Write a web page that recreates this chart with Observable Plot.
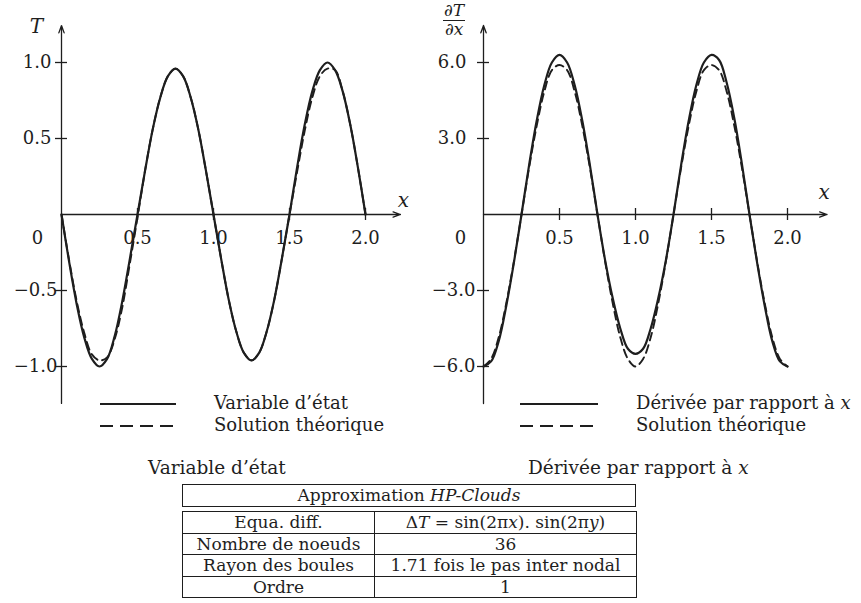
<!DOCTYPE html>
<html><head><meta charset="utf-8">
<script src="https://cdn.jsdelivr.net/npm/d3@7"></script>
<script src="https://cdn.jsdelivr.net/npm/@observablehq/plot@0.6"></script>
<style>
body{margin:0;background:#fff;}
#root{position:relative;width:861px;height:603px;overflow:hidden;font-family:"DejaVu Serif",serif;color:#1e1e1e;background:#fff;}
.abs{position:absolute;}
.leg{position:absolute;font-size:18px;white-space:nowrap;line-height:1;}
.cap{position:absolute;font-size:18.5px;white-space:nowrap;line-height:1;}
.frac{position:absolute;left:443px;top:2px;font-size:17px;font-style:italic;text-align:center;line-height:1.0;}
.frac .num{border-bottom:1.4px solid #1e1e1e;padding:0 1px 1px 1px;}
#t1{position:absolute;left:182px;top:484px;width:452px;height:21px;border:1.6px solid #1e1e1e;text-align:center;font-size:17px;line-height:21px;}
#t2{position:absolute;left:182px;top:511px;width:455px;border-collapse:collapse;font-size:17px;}
#t2 td{border:1.6px solid #1e1e1e;height:20.5px;padding:0;text-align:center;line-height:20.5px;white-space:nowrap;}
i{font-style:italic;}
</style></head><body><div id="root">
<div id="p1" class="abs" style="left:0;top:0"></div>
<div id="p2" class="abs" style="left:430px;top:0"></div>
<div class="frac"><div class="num">∂T</div><div>∂x</div></div>
<div id="legends"></div>
<div class="cap" style="left:148px;top:459px">Variable d’état</div>
<div class="cap" style="left:528px;top:459px">Dérivée par rapport à <i>x</i></div>
<div id="t1">Approximation <i>HP-Clouds</i></div>
<table id="t2"></table>
</div>
<script>
// ---- data ----
const xs = [0,0.05,0.1,0.15,0.2,0.25,0.3,0.35,0.4,0.45,0.5,0.55,0.6,0.65,0.7,0.75,0.8,0.85,0.9,0.95,1.0,
            1.05,1.1,1.15,1.2,1.25,1.3,1.35,1.4,1.45,1.5,1.55,1.6,1.65,1.7,1.75,1.8,1.85,1.9,1.95,2.0];
// Variable d'état (solid) and solution théorique (dashed)
const tState = [0,-0.31,-0.59,-0.81,-0.95,-1.0,-0.95,-0.80,-0.57,-0.29,0.0,0.29,0.56,0.77,0.91,0.96,0.91,0.77,0.56,0.29,0.0,
                -0.29,-0.56,-0.77,-0.91,-0.96,-0.91,-0.77,-0.56,-0.29,0.0,0.31,0.59,0.81,0.95,1.0,0.95,0.81,0.59,0.31,0.0];
const tTheory = [0,-0.30,-0.57,-0.78,-0.92,-0.96,-0.94,-0.82,-0.61,-0.32,-0.02,0.29,0.56,0.77,0.91,0.96,0.91,0.77,0.56,0.29,0.0,
                -0.29,-0.56,-0.77,-0.91,-0.96,-0.91,-0.77,-0.56,-0.29,0.0,0.28,0.55,0.77,0.91,0.96,0.95,0.81,0.59,0.31,0.0];
// Dérivée par rapport à x (solid) and solution théorique (dashed)
const dState = [-6.0,-5.8,-5.0,-3.6,-1.9,0.0,1.95,3.7,5.1,6.0,6.3,6.0,5.1,3.7,1.95,0.0,-1.8,-3.3,-4.5,-5.3,-5.5,
                -5.3,-4.5,-3.3,-1.8,0.0,1.95,3.7,5.1,6.0,6.3,6.1,5.2,3.8,2.0,0.0,-1.9,-3.6,-5.0,-5.8,-6.0];
const dTheory = [-6.0,-5.7,-4.85,-3.5,-1.85,0.0,1.85,3.5,4.85,5.7,5.9,5.7,4.85,3.5,1.85,0.0,-1.85,-3.5,-4.85,-5.7,-6.0,
                -5.7,-4.85,-3.5,-1.85,0.0,1.85,3.5,4.85,5.7,5.9,5.7,4.85,3.5,1.85,0.0,-1.85,-3.5,-4.85,-5.7,-6.0];
const xTicks = [0.5,1.0,1.5,2.0];
const tTicks = [-1.0,-0.5,0.5,1.0];
const dTicks = [-6.0,-3.0,3.0,6.0];
const tAxisExtent = {x: 2.23, y: 1.243};
const dAxisExtent = {x: 2.26, y: 7.46};
const legendLeft = ["Variable d’état","Solution théorique"];
const legendRight = ["Dérivée par rapport à <i>x</i>","Solution théorique"];
const tableRows = [
  ["Equa. diff.", "Δ<i>T</i> = sin(2π<i>x</i>). sin(2π<i>y</i>)"],
  ["Nombre de noeuds","36"],
  ["Rayon des boules","1.71 fois le pas inter nodal"],
  ["Ordre","1"]
];

const ink = "#1e1e1e";
const fmt = v => (v < 0 ? "−" : "") + Math.abs(v).toFixed(1);

function panel(o) {
  const data = xs.map((x, i) => ({x, s: o.solid[i], d: o.dashed[i]}));
  const top = o.ticks[o.ticks.length - 1];
  const fs = 18;
  return Plot.plot({
    width: o.width, height: 440, margin: 0,
    x: {domain: [0, 1], range: [o.x0, o.x0 + 152], axis: null},
    y: {domain: [0, top], range: [214, 62], axis: null},
    style: {background: "transparent", color: ink, fontFamily: "DejaVu Serif", overflow: "visible"},
    marks: [
      Plot.arrow([o.ext], {x1: 0, y1: d => -d.y, x2: 0, y2: d => d.y, stroke: ink, strokeWidth: 1.3, headLength: 9, headAngle: 40}),
      Plot.arrow([o.ext], {x1: 0, y1: 0, x2: d => d.x, y2: 0, stroke: ink, strokeWidth: 1.3, headLength: 9, headAngle: 40}),
      Plot.ruleY(o.ticks, {y: d => d, x1: 0, x2: 0, insetLeft: -6, insetRight: -6, stroke: ink, strokeWidth: 1.3}),
      Plot.ruleX(xTicks, {x: d => d, y1: 0, y2: 0, insetTop: -6, insetBottom: -6, stroke: ink, strokeWidth: 1.3}),
      Plot.line(data, {x: "x", y: "d", curve: "catmull-rom", stroke: ink, strokeWidth: 1.9, strokeDasharray: "8,5"}),
      Plot.line(data, {x: "x", y: "s", curve: "catmull-rom", stroke: ink, strokeWidth: 2.2}),
      Plot.text(o.ticks.filter(v => v > 0), {x: 0, y: d => d, text: fmt, textAnchor: "end", dx: o.posDx, fontSize: fs, fill: ink}),
      Plot.text(o.ticks.filter(v => v < 0), {x: 0, y: d => d, text: fmt, textAnchor: "end", dx: o.negDx, fontSize: fs, fill: ink}),
      Plot.text(xTicks, {x: d => d, y: 0, text: fmt, dy: 24, fontSize: fs, fill: ink}),
      Plot.text([0], {x: 0, y: 0, text: d => String(d), dx: o.originDx, dy: 24, fontSize: fs, fill: ink}),
      Plot.text([o.ext], {x: d => d.x, y: 0, text: () => "x", dx: o.xLabDx, dy: o.xLabDy, fontSize: 20, fontStyle: "italic", fill: ink}),
      ...(o.yLabel ? [Plot.text([o.ext], {x: 0, y: d => d.y, text: () => o.yLabel, dx: -25, dy: 1, fontSize: 20, fontStyle: "italic", fill: ink})] : [])
    ]
  });
}

document.getElementById("p1").append(panel({
  solid: tState, dashed: tTheory, ticks: tTicks, ext: tAxisExtent, width: 430, x0: 61,
  posDx: -10, negDx: -4, originDx: -24, xLabDx: 3, xLabDy: -14, yLabel: "T"
}));
document.getElementById("p2").append(panel({
  solid: dState, dashed: dTheory, ticks: dTicks, ext: dAxisExtent, width: 431, x0: 53,
  posDx: -17, negDx: -8, originDx: -23, xLabDx: -3, xLabDy: -22, yLabel: null
}));

// legends
function legend(lineX1, lineX2, textX, labels) {
  const box = document.getElementById("legends");
  [404, 426].forEach((y, i) => {
    const svg = document.createElementNS("http://www.w3.org/2000/svg", "svg");
    svg.setAttribute("width", lineX2 - lineX1); svg.setAttribute("height", 6);
    svg.style.position = "absolute"; svg.style.left = lineX1 + "px"; svg.style.top = (y - 3) + "px";
    const ln = document.createElementNS("http://www.w3.org/2000/svg", "line");
    ln.setAttribute("x1", 0); ln.setAttribute("x2", lineX2 - lineX1); ln.setAttribute("y1", 3); ln.setAttribute("y2", 3);
    ln.setAttribute("stroke", ink); ln.setAttribute("stroke-width", 2);
    if (i === 1) ln.setAttribute("stroke-dasharray", "13,7");
    svg.append(ln); box.append(svg);
    const d = document.createElement("div");
    d.className = "leg"; d.style.left = textX + "px"; d.style.top = (y - 10) + "px";
    d.innerHTML = labels[i]; box.append(d);
  });
}
legend(100, 176, 214, legendLeft);
legend(520, 598, 636, legendRight);

// table
const t2 = document.getElementById("t2");
tableRows.forEach(r => {
  const tr = document.createElement("tr");
  r.forEach((c, j) => { const td = document.createElement("td"); td.innerHTML = c; if (j === 0) td.style.width = "191px"; tr.append(td); });
  t2.append(tr);
});
</script>
</body></html>
